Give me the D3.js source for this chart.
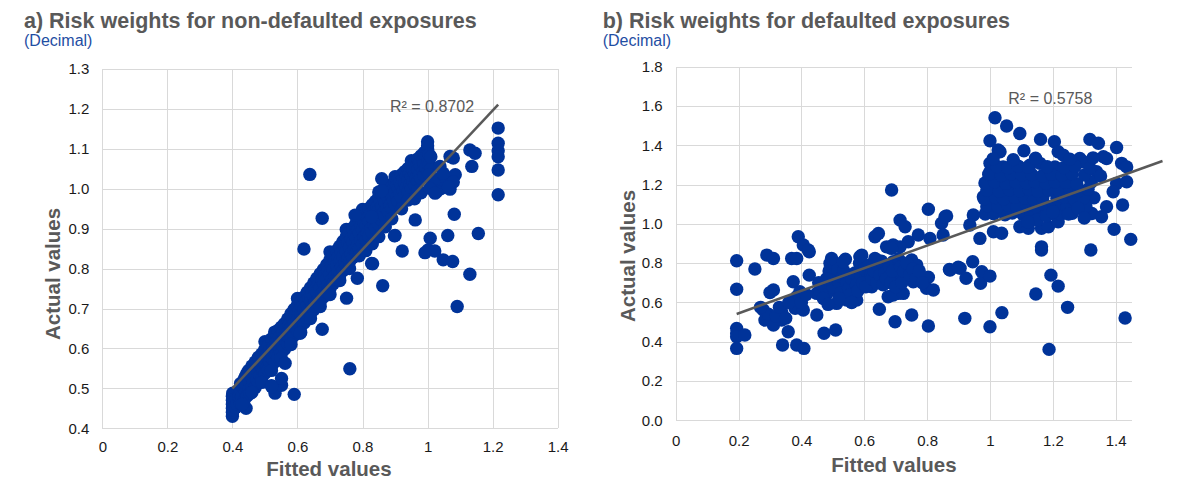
<!DOCTYPE html>
<html>
<head>
<meta charset="utf-8">
<script src="https://cdn.jsdelivr.net/npm/d3@7"></script>
<style>
body {
  margin: 0;
  background: #fff;
  font-family: "Liberation Sans", Arial, sans-serif;
}
.grid line, .grid path { stroke: #d9d9d9; stroke-width: 1; shape-rendering: crispEdges; }
.tick text { font-size: 15px; fill: #1a1a1a; font-family: "Liberation Sans", Arial, sans-serif; }
.title { font-size: 21.5px; font-weight: bold; fill: #595959; }
.unit { font-size: 16px; fill: #1f4ea3; }
.axisTitle { font-size: 20.5px; font-weight: bold; fill: #595959; }
.rsq { font-size: 16px; fill: #595959; }
.dot { fill: #003399; }
.trend { stroke: #595959; stroke-width: 2.5; fill: none; }
</style>
</head>
<body>
<svg id="chart" width="1194" height="490"></svg>
<script>
// ---- data: [fitted, actual] ----
var nonDefaulted = [
  // cluster at the 0.4 floor
  [0.400,0.430],[0.400,0.440],[0.400,0.450],[0.400,0.460],[0.400,0.470],[0.400,0.480],[0.401,0.488],
  [0.402,0.445],[0.403,0.465],[0.404,0.475],[0.405,0.455],[0.406,0.485],[0.408,0.468],[0.410,0.452],
  [0.410,0.490],[0.412,0.476],[0.415,0.460],[0.418,0.495],[0.420,0.480],[0.423,0.470],[0.442,0.450],
  // main band
  [0.425,0.462],[0.425,0.497],[0.425,0.512],[0.430,0.478],[0.430,0.505],[0.435,0.468],[0.435,0.521],
  [0.440,0.490],[0.440,0.512],[0.440,0.530],[0.445,0.481],[0.445,0.538],[0.450,0.497],[0.450,0.520],
  [0.450,0.545],[0.455,0.488],[0.455,0.531],[0.460,0.505],[0.460,0.528],[0.460,0.556],[0.465,0.515],
  [0.465,0.548],[0.470,0.502],[0.470,0.535],[0.470,0.566],[0.475,0.522],[0.475,0.551],[0.480,0.514],
  [0.480,0.541],[0.480,0.578],[0.485,0.532],[0.485,0.560],[0.490,0.525],[0.490,0.552],[0.490,0.586],
  [0.495,0.545],[0.495,0.571],[0.500,0.538],[0.500,0.562],[0.500,0.598],[0.500,0.617],[0.505,0.551],
  [0.505,0.584],[0.510,0.547],[0.510,0.575],[0.510,0.606],[0.515,0.566],[0.515,0.594],[0.520,0.556],
  [0.520,0.588],[0.520,0.624],[0.525,0.572],[0.525,0.603],[0.530,0.566],[0.530,0.598],[0.530,0.632],
  [0.530,0.641],[0.535,0.585],[0.535,0.614],[0.540,0.578],[0.540,0.607],[0.540,0.645],[0.545,0.596],
  [0.545,0.628],[0.550,0.588],[0.550,0.618],[0.550,0.653],[0.555,0.606],[0.555,0.640],[0.560,0.598],
  [0.560,0.629],[0.560,0.662],[0.565,0.617],[0.565,0.650],[0.570,0.611],[0.570,0.641],[0.570,0.674],
  [0.575,0.628],[0.575,0.660],[0.580,0.622],[0.580,0.652],[0.580,0.687],[0.585,0.640],[0.585,0.671],
  [0.590,0.633],[0.590,0.663],[0.590,0.698],[0.595,0.650],[0.595,0.684],[0.600,0.645],[0.600,0.674],
  [0.600,0.708],[0.600,0.725],[0.605,0.661],[0.605,0.694],[0.610,0.655],[0.610,0.686],[0.610,0.717],
  [0.615,0.672],[0.615,0.705],[0.620,0.664],[0.620,0.697],[0.620,0.729],[0.625,0.684],[0.625,0.716],
  [0.630,0.676],[0.630,0.708],[0.630,0.741],[0.635,0.693],[0.635,0.725],[0.640,0.688],[0.640,0.719],
  [0.640,0.752],[0.645,0.705],[0.645,0.738],[0.650,0.697],[0.650,0.730],[0.650,0.764],[0.655,0.716],
  [0.655,0.749],[0.660,0.707],[0.660,0.741],[0.660,0.776],[0.665,0.727],[0.665,0.760],[0.670,0.718],
  [0.670,0.752],[0.670,0.787],[0.675,0.738],[0.675,0.772],[0.680,0.729],[0.680,0.763],[0.680,0.798],
  [0.685,0.749],[0.685,0.784],[0.690,0.740],[0.690,0.775],[0.690,0.810],[0.695,0.760],[0.695,0.795],
  [0.700,0.751],[0.700,0.786],[0.700,0.822],[0.700,0.842],[0.705,0.771],[0.705,0.806],[0.710,0.762],
  [0.710,0.797],[0.710,0.833],[0.715,0.782],[0.715,0.818],[0.720,0.773],[0.720,0.808],[0.720,0.845],
  [0.725,0.793],[0.725,0.829],[0.730,0.784],[0.730,0.820],[0.730,0.856],[0.735,0.804],[0.735,0.841],
  [0.740,0.795],[0.740,0.831],[0.740,0.868],[0.745,0.815],[0.745,0.852],[0.750,0.806],[0.750,0.843],
  [0.750,0.880],[0.750,0.898],[0.755,0.826],[0.755,0.864],[0.760,0.817],[0.760,0.854],[0.760,0.891],
  [0.765,0.837],[0.765,0.875],[0.770,0.828],[0.770,0.866],[0.770,0.902],[0.775,0.848],[0.775,0.886],
  [0.780,0.839],[0.780,0.877],[0.780,0.913],[0.785,0.859],[0.785,0.896],[0.790,0.850],[0.790,0.888],
  [0.790,0.924],[0.795,0.870],[0.795,0.906],[0.800,0.861],[0.800,0.898],[0.800,0.934],[0.800,0.948],
  [0.805,0.880],[0.805,0.916],[0.810,0.871],[0.810,0.908],[0.810,0.942],[0.815,0.890],[0.815,0.926],
  [0.820,0.881],[0.820,0.918],[0.820,0.951],[0.825,0.900],[0.825,0.936],[0.830,0.891],[0.830,0.928],
  [0.830,0.960],[0.835,0.910],[0.835,0.946],[0.840,0.901],[0.840,0.938],[0.840,0.969],[0.845,0.920],
  [0.845,0.955],[0.850,0.911],[0.850,0.947],[0.850,0.978],[0.850,0.992],[0.855,0.930],[0.855,0.964],
  [0.860,0.921],[0.860,0.956],[0.860,0.986],[0.865,0.940],[0.865,0.973],[0.870,0.931],[0.870,0.965],
  [0.870,0.995],[0.875,0.950],[0.875,0.982],[0.880,0.941],[0.880,0.974],[0.880,1.003],[0.885,0.960],
  [0.885,0.991],[0.890,0.951],[0.890,0.983],[0.890,1.011],[0.895,0.969],[0.895,0.999],[0.900,0.960],
  [0.900,0.992],[0.900,1.019],[0.900,1.030],[0.905,0.978],[0.905,1.007],[0.910,0.969],[0.910,1.000],
  [0.910,1.027],[0.915,0.987],[0.915,1.015],[0.920,0.978],[0.920,1.008],[0.920,1.035],[0.925,0.995],
  [0.925,1.023],[0.930,0.986],[0.930,1.016],[0.930,1.043],[0.935,1.003],[0.935,1.031],[0.940,0.994],
  [0.940,1.024],[0.940,1.051],[0.945,1.011],[0.945,1.039],[0.950,1.002],[0.950,1.032],[0.950,1.059],
  [0.950,1.070],[0.955,1.019],[0.955,1.047],[0.960,1.010],[0.960,1.040],[0.960,1.067],[0.965,1.027],
  [0.965,1.055],[0.970,1.018],[0.970,1.048],[0.970,1.075],[0.975,1.035],[0.975,1.063],[0.980,1.026],
  [0.980,1.056],[0.980,1.083],[0.985,1.043],[0.985,1.071],[0.990,1.034],[0.990,1.064],[0.990,1.091],
  [0.995,1.051],[0.995,1.079],[1.000,1.042],[1.000,1.072],[1.000,1.099],[1.000,1.118],[1.000,1.108],
  [1.005,1.060],[1.005,1.086],[1.010,1.050],[1.010,1.080],
  // lower edge of the band, under the trend line
  [0.430,0.460],[0.460,0.490],[0.490,0.515],[0.520,0.545],[0.550,0.575],[0.580,0.610],[0.610,0.640],
  [0.640,0.675],[0.670,0.705],[0.700,0.735],[0.730,0.770],[0.760,0.800],[0.790,0.832],[0.810,0.845],
  [0.830,0.862],[0.850,0.880],[0.870,0.905],[0.890,0.925],[0.920,0.950],[0.940,0.972],[0.970,0.995],
  [0.960,0.975],[0.980,0.990],
  // right of the band near 1.0
  [1.005,1.035],[1.015,1.020],[1.025,1.010],[1.035,1.025],[1.045,1.015],[1.055,1.030],[1.065,1.005],
  [1.075,1.020],[1.085,1.035],[1.040,1.000],[1.020,0.995],[1.069,1.081],[1.038,1.056],[1.018,1.014],
  [1.028,0.993],[1.069,0.999],[1.079,1.017],
  // scattered points
  [0.638,1.036],[0.676,0.926],[0.620,0.849],[0.777,0.934],[0.859,1.025],[0.859,0.995],[1.082,0.936],
  [1.156,0.888],[1.062,0.883],[1.008,0.876],[0.962,0.922],[0.900,0.883],[0.922,0.844],[1.002,0.847],
  [1.022,0.844],[1.217,1.152],[1.217,1.114],[1.217,1.095],[1.217,1.080],[1.217,1.047],[1.217,0.985],
  [1.130,1.097],[1.146,1.089],[1.136,1.056],[1.079,1.077],[1.048,1.039],[1.064,1.005],[1.007,1.001],
  [1.023,0.989],[0.828,0.813],[0.862,0.757],[0.992,0.840],[1.048,0.822],[1.077,0.818],[1.130,0.786],
  [1.091,0.705],[0.761,0.549],[0.590,0.485],[0.531,0.488],[0.551,0.508],[0.520,0.507],[0.831,0.812],
  [0.784,0.776],[0.751,0.726],[0.676,0.648],[0.608,0.638],[0.551,0.525],[0.562,0.563],[0.521,0.504],
  [0.898,0.882],[0.828,0.930]
];
var trendA = [[0.400, 0.500], [1.217, 1.211]];
var rsqA = "R² = 0.8702";

var defaulted = [
  [0.194,0.812],[0.194,0.667],[0.194,0.468],[0.194,0.445],[0.194,0.425],[0.194,0.366],[0.220,0.434],
  [0.252,0.770],[0.290,0.841],[0.311,0.824],[0.311,0.663],[0.300,0.650],[0.279,0.561],[0.284,0.510],
  [0.311,0.485],[0.337,0.553],[0.337,0.510],[0.358,0.451],[0.340,0.383],[0.385,0.383],[0.408,0.366],
  [0.369,0.824],[0.385,0.824],[0.374,0.705],[0.385,0.629],[0.380,0.570],[0.406,0.561],[0.425,0.858],
  [0.425,0.739],[0.449,0.536],[0.472,0.443],[0.509,0.460],[0.449,0.646],[0.460,0.655],[0.491,0.799],
  [0.523,0.782],[0.507,0.739],[0.507,0.663],[0.512,0.595],[0.539,0.646],[0.544,0.612],[0.576,0.612],
  [0.565,0.680],[0.586,0.833],[0.592,0.782],[0.608,0.731],[0.624,0.680],[0.640,0.816],[0.648,0.565],
  [0.671,0.765],[0.692,0.807],[0.676,0.629],[0.698,0.502],[0.708,0.646],[0.703,0.739],[0.692,0.638],
  [0.724,0.646],[0.751,0.536],[0.756,0.705],[0.751,0.816],[0.767,0.790],[0.804,0.728],[0.798,0.672],
  [0.820,0.663],[0.804,0.480],[0.873,0.765],[0.905,0.774],[0.924,0.723],[0.945,0.807],[0.974,0.756],
  [0.970,0.697],[1.000,0.734],[0.920,0.519],[1.000,0.476],[1.038,0.548],[1.164,0.867],[1.194,0.739],
  [1.217,0.683],[1.146,0.643],[1.247,0.575],[1.188,0.361],[1.430,0.521],[1.321,0.867],
  [0.295,0.540],[0.320,0.530],[0.330,0.575],[0.350,0.520],[0.360,0.600],[0.395,0.655],[0.400,0.600],
  [0.415,0.640],[0.270,0.575],
  [0.455,0.700],[0.470,0.680],[0.480,0.640],[0.488,0.760],[0.495,0.710],[0.500,0.680],[0.505,0.790],
  [0.515,0.770],[0.520,0.700],[0.525,0.650],[0.530,0.730],[0.535,0.760],[0.545,0.700],[0.550,0.670],
  [0.555,0.640],[0.560,0.720],[0.570,0.750],[0.575,0.690],[0.580,0.660],[0.585,0.800],[0.590,0.740],
  [0.595,0.700],[0.600,0.770],[0.605,0.680],[0.615,0.790],[0.620,0.740],[0.625,0.720],[0.630,0.760],
  [0.640,0.700],[0.645,0.780],[0.650,0.740],[0.655,0.810],[0.660,0.690],[0.665,0.750],[0.670,0.720],
  [0.680,0.780],[0.685,0.700],[0.690,0.760],[0.700,0.680],[0.710,0.820],[0.715,0.780],[0.720,0.700],
  [0.725,0.760],[0.735,0.800],[0.745,0.740],[0.755,0.770],[0.765,0.720],[0.775,0.760],[0.785,0.700],
  [0.520,0.620],[0.560,0.600],[0.470,0.620],[0.485,0.590],[0.540,0.820],[0.480,0.720],
  [0.390,0.934],[0.406,0.892],[0.422,0.867],[0.496,0.824],[0.533,0.807],[0.592,0.841],[0.634,0.934],
  [0.645,0.951],[0.671,0.883],[0.692,0.892],[0.714,1.019],[0.634,0.824],[0.687,1.172],[0.730,0.985],
  [0.804,1.074],[0.846,1.003],[0.862,1.040],[0.851,0.943],[0.772,0.943],[0.740,0.909],[0.714,0.883],
  [0.809,0.926],[0.687,0.875],[0.871,0.768],[0.899,0.779],[0.857,1.036],
  [1.016,1.540],[1.053,1.498],[1.095,1.460],[1.000,1.423],[1.026,1.376],[1.032,1.367],[1.108,1.372],
  [1.161,1.430],[1.205,1.418],[1.217,1.367],[1.233,1.350],[1.318,1.430],[1.345,1.410],[1.403,1.389],
  [1.361,1.342],[1.371,1.333],[1.419,1.308],[1.435,1.290],[1.000,1.308],[1.000,1.265],[1.042,1.290],
  [1.127,1.299],[1.159,1.308],[1.207,1.290],[1.286,1.333],[1.297,1.316],[1.339,1.265],[1.403,1.206],
  [1.435,1.214],[1.000,1.189],[0.995,1.130],[1.021,1.087],[0.947,1.045],[0.936,0.994],[0.968,0.926],
  [1.011,0.960],[1.037,0.952],[1.095,0.985],[1.122,0.977],[1.164,0.977],[1.186,0.985],[1.217,1.011],
  [1.164,0.883],[1.233,1.096],[1.286,1.125],[1.324,1.053],[1.331,1.133],[1.355,1.036],[1.371,1.087],
  [1.392,1.163],[1.422,1.096],[1.395,0.972],[1.448,0.921],[0.979,1.138],[0.990,1.087],
  // dense block just right of 1.0
  [0.985,1.050],[1.012,1.052],[1.048,1.046],[1.071,1.055],[1.105,1.048],[1.132,1.053],[1.158,1.047],
  [1.195,1.056],[1.226,1.049],[1.262,1.054],
  [0.992,1.092],[1.025,1.088],[1.058,1.095],[1.086,1.087],[1.118,1.093],[1.147,1.089],[1.176,1.096],
  [1.204,1.091],[1.245,1.086],[1.276,1.094],[1.305,1.090],
  [0.981,1.128],[1.018,1.134],[1.043,1.127],[1.079,1.136],[1.112,1.131],[1.139,1.125],[1.168,1.133],
  [1.213,1.129],[1.238,1.137],[1.268,1.126],[1.298,1.132],
  [0.990,1.172],[1.030,1.166],[1.062,1.174],[1.094,1.168],[1.125,1.175],[1.152,1.167],[1.187,1.171],
  [1.222,1.165],[1.255,1.173],[1.283,1.169],[1.312,1.176],
  [0.984,1.208],[1.015,1.214],[1.051,1.206],[1.083,1.212],[1.116,1.209],[1.143,1.215],[1.178,1.207],
  [1.208,1.213],[1.241,1.211],[1.276,1.205],[1.322,1.212],
  [0.996,1.252],[1.036,1.246],[1.068,1.254],[1.101,1.248],[1.133,1.251],[1.167,1.245],[1.196,1.253],
  [1.229,1.247],[1.262,1.255],[1.301,1.249],[1.352,1.244],
  [1.022,1.292],[1.057,1.286],[1.090,1.294],[1.120,1.288],[1.182,1.291],[1.236,1.287],[1.271,1.293],
  [1.318,1.285],
  [1.010,1.331],[1.074,1.327],[1.145,1.334],[1.254,1.329],[1.328,1.336],
  [1.150,1.020],[1.180,1.040],[1.200,1.060],[1.250,1.050],[1.120,1.010],[1.280,1.080],[1.300,1.030]
];
var trendB = [[0.194, 0.541], [1.549, 1.320]];
var rsqB = "R² = 0.5758";

var xTicks = [0, 0.2, 0.4, 0.6, 0.8, 1, 1.2, 1.4];
var yTicksA = [0.4, 0.5, 0.6, 0.7, 0.8, 0.9, 1.0, 1.1, 1.2, 1.3];
var yTicksB = [0, 0.2, 0.4, 0.6, 0.8, 1.0, 1.2, 1.4, 1.6, 1.8];

var svg = d3.select("#chart");

function panel(opt) {
  var g = svg.append("g");

  var x = d3.scaleLinear().domain(opt.xDom).range([opt.left, opt.right]);
  var y = d3.scaleLinear().domain(opt.yDom).range([opt.bottom, opt.top]);

  // vertical gridlines + x labels
  var xAxis = d3.axisBottom(x)
    .tickValues(opt.xTicks)
    .tickSizeInner(-(opt.bottom - opt.top))
    .tickSizeOuter(0)
    .tickPadding(opt.xPad)
    .tickFormat(function(d){ return String(+d.toFixed(1)); });
  g.append("g")
    .attr("class", "grid")
    .attr("transform", "translate(0," + opt.bottom + ")")
    .call(xAxis)
    .call(function(s){ s.select(".domain").remove(); });

  // horizontal gridlines + y labels
  var yAxis = d3.axisLeft(y)
    .tickValues(opt.yTicks)
    .tickSizeInner(-(opt.right - opt.left))
    .tickSizeOuter(0)
    .tickPadding(13)
    .tickFormat(d3.format(".1f"));
  g.append("g")
    .attr("class", "grid")
    .attr("transform", "translate(" + opt.left + ",0)")
    .call(yAxis)
    .call(function(s){ s.select(".domain").remove(); });

  g.selectAll(".grid text").attr("fill", "#1a1a1a");

  g.selectAll(".dot")
    .data(opt.points)
    .enter().append("circle")
    .attr("class", "dot")
    .attr("cx", function(d){ return x(d[0]); })
    .attr("cy", function(d){ return y(d[1]); })
    .attr("r", 6.7);

  g.append("path")
    .attr("class", "trend")
    .attr("d", d3.line().x(function(d){ return x(d[0]); }).y(function(d){ return y(d[1]); })(opt.trend));

  g.append("text")
    .attr("class", "rsq")
    .attr("x", opt.rsqX)
    .attr("y", opt.rsqY)
    .text(opt.rsq);

  // titles
  g.append("text").attr("class", "title").attr("x", opt.titleX).attr("y", 28).text(opt.title);
  g.append("text").attr("class", "unit").attr("x", opt.titleX).attr("y", 46).text("(Decimal)");

  g.append("text")
    .attr("class", "axisTitle")
    .attr("text-anchor", "middle")
    .attr("x", opt.xTitleX)
    .attr("y", opt.xTitleY)
    .text("Fitted values");

  g.append("text")
    .attr("class", "axisTitle")
    .attr("text-anchor", "middle")
    .attr("transform", "translate(" + opt.yTitleX + "," + opt.yTitleY + ") rotate(-90)")
    .text("Actual values");
}

panel({
  points: nonDefaulted, trend: trendA, rsq: rsqA,
  xDom: [0, 1.4], yDom: [0.4, 1.3], xTicks: xTicks, yTicks: yTicksA,
  left: 102.3, right: 557.7, top: 69, bottom: 428.3, xPad: 13.3,
  rsqX: 390, rsqY: 111.5,
  title: "a) Risk weights for non-defaulted exposures", titleX: 24,
  xTitleX: 329, xTitleY: 476, yTitleX: 59.5, yTitleY: 274
});

panel({
  points: defaulted, trend: trendB, rsq: rsqB,
  xDom: [0, 1.451], yDom: [0, 1.8], xTicks: xTicks, yTicks: yTicksB,
  left: 675.7, right: 1131.7, top: 66.7, bottom: 420.3, xPad: 15,
  rsqX: 1008.3, rsqY: 104,
  title: "b) Risk weights for defaulted exposures", titleX: 602.7,
  xTitleX: 894, xTitleY: 471.7, yTitleX: 635, yTitleY: 256
});
</script>
</body>
</html>
